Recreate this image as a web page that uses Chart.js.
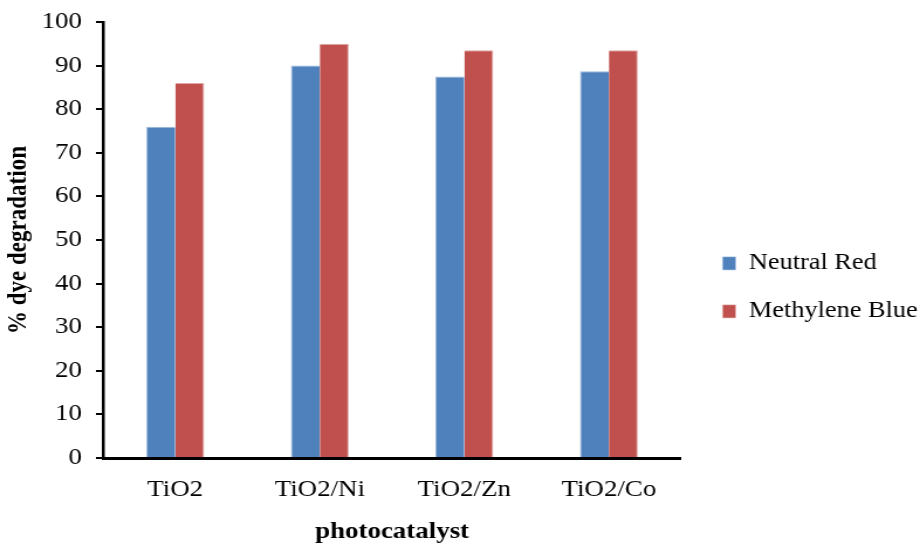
<!DOCTYPE html>
<html>
<head>
<meta charset="utf-8">
<script src="https://cdn.jsdelivr.net/npm/chart.js@4"></script>
<style>
  body { margin: 0; background: #fff; overflow: hidden; }
  /* the reference is a horizontally stretched figure, so stretch the canvas the same way */
  #wrap { width: 786px; height: 543px; transform: scaleX(1.1705); transform-origin: 0 0; }
</style>
</head>
<body>
<div id="wrap"><canvas id="mycanvas" width="786" height="543"></canvas></div>
<script>
// values
var catalysts = ['TiO2', 'TiO2/Ni', 'TiO2/Zn', 'TiO2/Co'];
var neutralRed = [76, 90, 87.5, 88.7];
var methyleneBlue = [86, 95, 93.5, 93.5];

var serif = "'Liberation Serif', 'Times New Roman', serif";

var chartdata = {
  labels: catalysts,
  datasets: [
    {
      label: 'Neutral Red',
      backgroundColor: '#4F81BD',
      borderColor: '#9db8da',
      borderWidth: { left: 1, right: 0, top: 1, bottom: 0 },
      data: neutralRed
    },
    {
      label: 'Methylene Blue',
      backgroundColor: '#C0504D',
      borderColor: '#e0a8a6',
      borderWidth: { left: 0, right: 1, top: 1, bottom: 0 },
      data: methyleneBlue
    }
  ]
};

var ctx = document.getElementById('mycanvas');

new Chart(ctx, {
  type: 'bar',
  data: chartdata,
  options: {
    responsive: false,
    animation: false,
    layout: { padding: { top: 6, right: -8, left: 2, bottom: -3 } },
    datasets: {
      bar: { categoryPercentage: 0.4, barPercentage: 1.0 }
    },
    plugins: {
      tooltip: { enabled: false },
      legend: {
        position: 'right',
        maxWidth: 240,
        title: { display: true, text: ' ', padding: 0, font: { size: 19 } },
        labels: {
          boxWidth: 11,
          boxHeight: 13,
          padding: 25.5,
          color: '#000',
          font: { family: serif, size: 22.5 }
        }
      }
    },
    scales: {
      x: {
        grid: { display: false, drawTicks: false },
        border: { color: '#000', width: 3 },
        ticks: { color: '#000', padding: 18, font: { family: serif, size: 23 } },
        title: {
          display: true,
          text: 'photocatalyst',
          color: '#000',
          padding: { top: 10, bottom: 0 },
          font: { family: serif, size: 23, weight: 'bold' }
        },
        afterFit: function(scale) { scale.height = 88; }
      },
      y: {
        min: 0,
        max: 100,
        ticks: { stepSize: 10, color: '#000', padding: 12, font: { family: serif, size: 23, lineHeight: 1 } },
        grid: { drawOnChartArea: false, drawTicks: true, tickLength: 6, color: '#000', lineWidth: 2 },
        border: { color: '#000', width: 2.5 },
        title: {
          display: true,
          text: '% dye degradation',
          color: '#000',
          padding: { top: 0, bottom: 6 },
          font: { family: serif, size: 23, weight: 'bold' }
        },
        afterFit: function(scale) {
          scale.width = 86;
          scale.paddingTop = 22;
        }
      },
      // empty spacer between plot and legend
      gap: {
        type: 'linear',
        position: 'right',
        display: true,
        grid: { display: false },
        border: { display: false },
        ticks: { display: false },
        afterFit: function(scale) { scale.width = 10; }
      }
    }
  }
});
</script>
</body>
</html>
